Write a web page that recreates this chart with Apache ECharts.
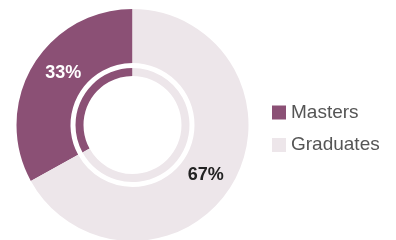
<!DOCTYPE html>
<html>
<head>
<meta charset="utf-8">
<script src="https://cdn.jsdelivr.net/npm/echarts@6/dist/echarts.min.js"></script>
<style>
html, body { margin: 0; padding: 0; background: #fff; }
#chart { width: 396px; height: 240px; }
</style>
</head>
<body>
<div id="chart"></div>
<script>
var categories = ['Masters', 'Graduates'];
var shares = [33, 67];
var colors = ['#8b5075', '#ede6ea'];
var labelColors = ['#ffffff', '#222222'];
// small nudges so the labels sit where the original put them
var labelOffsets = [[10, -5], [-6, 3]];

var chart = echarts.init(document.getElementById('chart'));

var outerData = categories.map(function (name, i) {
  return {
    name: name,
    value: shares[i],
    itemStyle: { color: colors[i] },
    label: { color: labelColors[i], offset: labelOffsets[i] }
  };
});
var innerData = categories.map(function (name, i) {
  return { name: name, value: shares[i], itemStyle: { color: colors[i] } };
});

var option = {
  animation: false,
  legend: {
    orient: 'vertical',
    left: 267,
    top: 98,
    icon: 'rect',
    itemWidth: 14,
    itemHeight: 14,
    itemGap: 13.5,
    data: categories,
    textStyle: {
      fontFamily: 'Liberation Sans',
      fontSize: 19,
      lineHeight: 14,
      color: '#555555'
    }
  },
  series: [
    {
      type: 'pie',
      center: [132.5, 125],
      radius: [62, 116],
      startAngle: 90,
      clockwise: false,
      silent: true,
      label: {
        show: true,
        position: 'inside',
        formatter: '{c}%',
        fontFamily: 'Liberation Sans',
        fontWeight: 'bold',
        fontSize: 18
      },
      labelLine: { show: false },
      emphasis: { disabled: true },
      data: outerData
    },
    {
      type: 'pie',
      center: [132.5, 125],
      radius: [49, 57],
      startAngle: 90,
      clockwise: false,
      silent: true,
      label: { show: false },
      labelLine: { show: false },
      emphasis: { disabled: true },
      data: innerData
    }
  ]
};
chart.setOption(option);
</script>
</body>
</html>
